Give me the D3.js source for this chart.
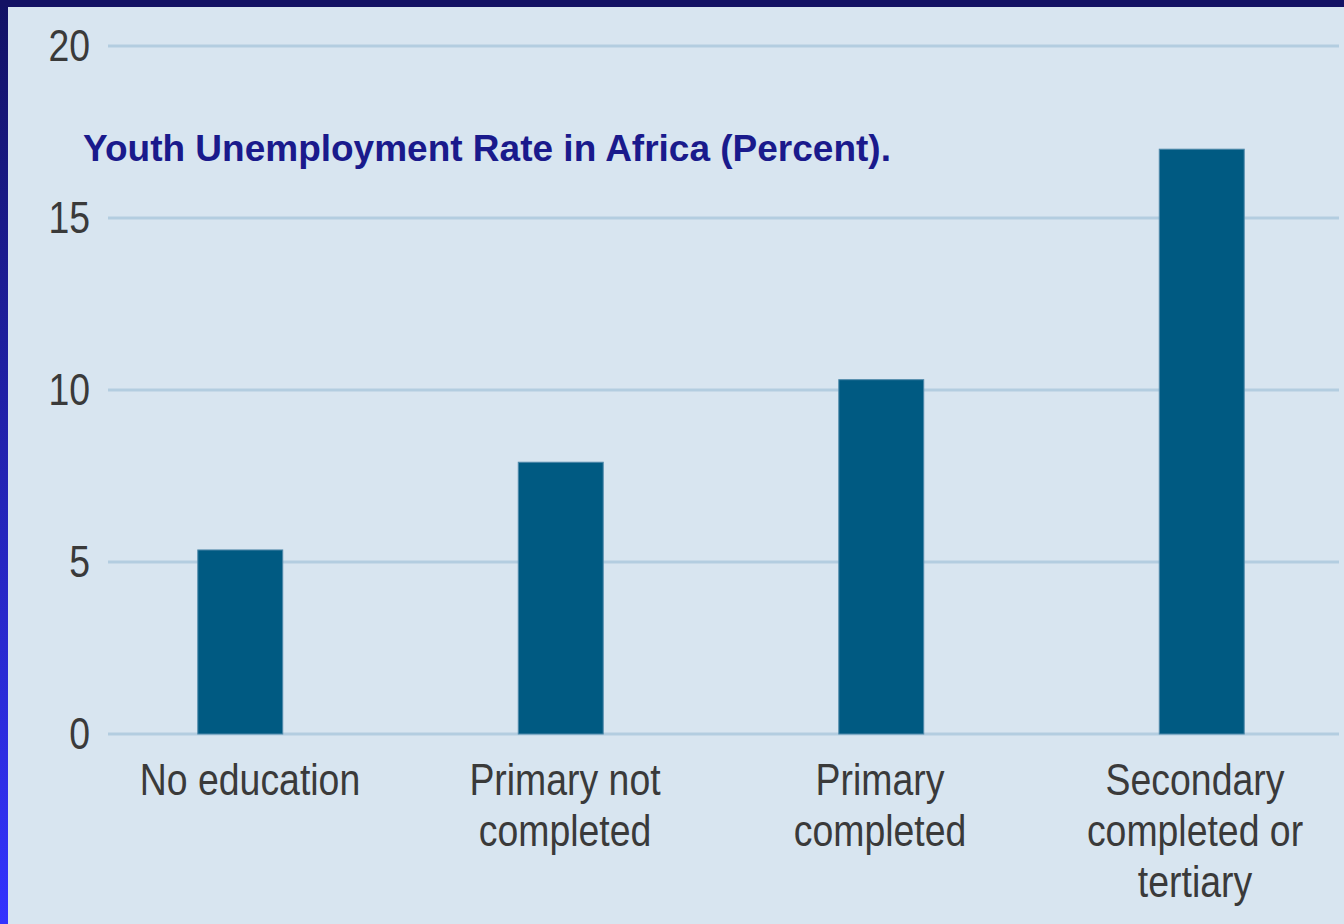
<!DOCTYPE html>
<html>
<head>
<meta charset="utf-8">
<script src="https://cdn.jsdelivr.net/npm/d3@7"></script>
<style>
  body { margin: 0; padding: 0; overflow: hidden; }
  svg { display: block; }
</style>
</head>
<body>
<div id="chart-area"></div>
<script>
// chart data
var categories = [['No education'], ['Primary not', 'completed'], ['Primary', 'completed'], ['Secondary', 'completed or', 'tertiary']];
var rates = [5.35, 7.9, 10.3, 17.0];
var yTicks = [0, 5, 10, 15, 20];
var title = 'Youth Unemployment Rate in Africa (Percent).';

var W = 1344, H = 924;
var narrow = 0.85; // condensed look for axis text

var svg = d3.select('#chart-area').append('svg')
    .attr('width', W)
    .attr('height', H);

// frame gradient (dark navy top, bright blue bottom on the left side)
var defs = svg.append('defs');
var grad = defs.append('linearGradient')
    .attr('id', 'frame')
    .attr('x1', 0).attr('y1', 0).attr('x2', 0).attr('y2', 1);
grad.append('stop').attr('offset', '0%').attr('stop-color', '#121264');
grad.append('stop').attr('offset', '100%').attr('stop-color', '#3333ff');

svg.append('rect')
    .attr('width', W).attr('height', H)
    .attr('fill', 'url(#frame)');

svg.append('rect')
    .attr('x', 0).attr('y', 0).attr('width', W).attr('height', 7)
    .attr('fill', '#131264');

// panel
svg.append('rect')
    .attr('x', 8).attr('y', 7)
    .attr('width', W - 8).attr('height', H - 7)
    .attr('fill', '#d8e5f0');

var x = d3.scaleBand()
    .domain(d3.range(categories.length))
    .range([80, 1362])
    .paddingInner(0.735)
    .paddingOuter(0.3675);

// labels sit on a slightly tighter spacing than the bars
var xLabel = d3.scalePoint()
    .domain(d3.range(categories.length))
    .range([250, 1195]);

var y = d3.scaleLinear()
    .domain([0, 20])
    .range([734, 46]);

// grid lines
svg.append('g')
    .selectAll('line')
    .data(yTicks)
    .enter().append('line')
    .attr('x1', 108)
    .attr('x2', 1339)
    .attr('y1', d => y(d))
    .attr('y2', d => y(d))
    .attr('stroke', '#b3cde0')
    .attr('stroke-width', 3);

// y tick labels
svg.append('g')
    .selectAll('text')
    .data(yTicks)
    .enter().append('text')
    .attr('transform', d => 'translate(90,' + y(d) + ') scale(' + narrow + ',1)')
    .attr('dy', '0.35em')
    .attr('text-anchor', 'end')
    .attr('font-family', '"Liberation Sans", Arial, sans-serif')
    .attr('font-size', 44)
    .attr('fill', '#3a3a3a')
    .text(d => d);

// bars
svg.append('g')
    .selectAll('rect')
    .data(rates)
    .enter().append('rect')
    .attr('x', (d, i) => x(i))
    .attr('y', d => y(d))
    .attr('width', x.bandwidth())
    .attr('height', d => y(0) - y(d))
    .attr('fill', '#005a82')
    .attr('stroke', '#4f89aa')
    .attr('stroke-width', 1);

// category labels
var labels = svg.append('g')
    .selectAll('text')
    .data(categories)
    .enter().append('text')
    .attr('transform', (d, i) => 'translate(' + xLabel(i) + ',795) scale(' + narrow + ',1)')
    .attr('text-anchor', 'middle')
    .attr('font-family', '"Liberation Sans", Arial, sans-serif')
    .attr('font-size', 44)
    .attr('fill', '#3a3a3a');

labels.selectAll('tspan')
    .data(d => d)
    .enter().append('tspan')
    .attr('x', 0)
    .attr('dy', (d, i) => i === 0 ? 0 : 51)
    .text(d => d);

// title
svg.append('text')
    .attr('x', 83)
    .attr('y', 161)
    .attr('font-family', '"Liberation Sans", Arial, sans-serif')
    .attr('font-weight', 'bold')
    .attr('font-size', 37)
    .attr('fill', '#1a1a8c')
    .text(title);
</script>
</body>
</html>
